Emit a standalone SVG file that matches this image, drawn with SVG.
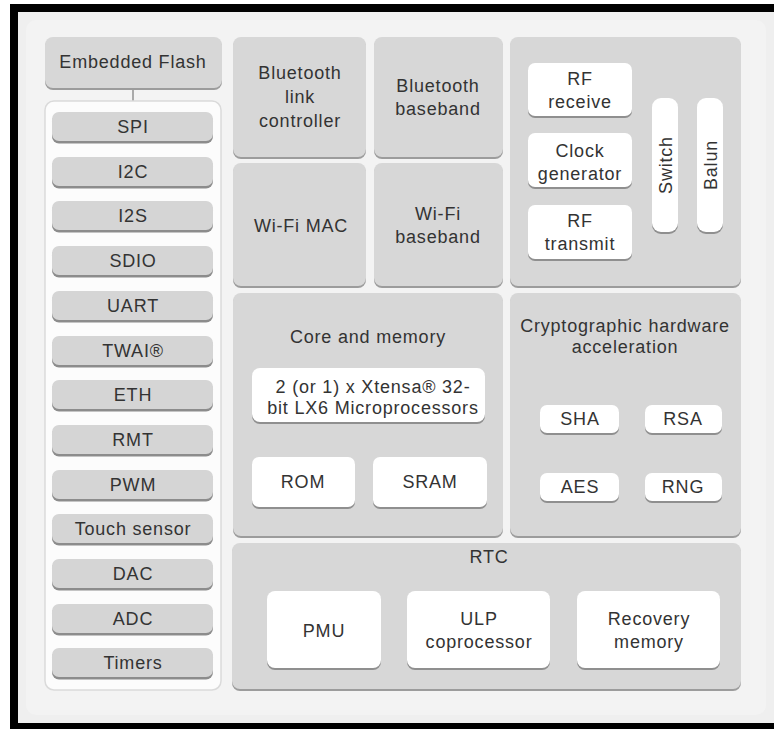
<svg xmlns="http://www.w3.org/2000/svg" width="774" height="729" viewBox="0 0 774 729">
<defs>
<style>
.bg{fill:#efefef}
.panel{fill:#d7d7d7}
.psh{fill:#9c9c9c}
.btn{fill:#d5d5d5}
.bsh{fill:#8c8c8c}
.wb{fill:#ffffff}
.wsh{fill:#8f8f8f}
.t{font-family:"Liberation Sans",Arial,Helvetica,sans-serif;font-size:18px;fill:#333;text-anchor:middle;letter-spacing:0.8px}
.conn{stroke:#7a7a7a;stroke-width:1.2;fill:none}
</style>
</defs>
<rect x="0" y="0" width="774" height="729" fill="#ffffff"/>
<rect x="10" y="4" width="764" height="725" fill="#000"/>
<rect class="bg" x="18" y="12" width="756" height="711"/>
<rect x="26" y="20" width="740" height="695" rx="10" fill="#f3f3f3"/>

<g id="connectors">
<line class="conn" x1="133" y1="89" x2="133" y2="113"/>
</g>

<g id="embedded-flash">
<rect class="psh" x="45" y="39" width="177" height="51" rx="8"/>
<rect class="panel" x="45" y="37" width="177" height="51" rx="8"/>
<text class="t" x="133" y="68">Embedded Flash</text>
</g>

<g id="peripherals">
<rect x="45" y="101" width="176" height="589" rx="9" fill="#fcfcfc" stroke="#dadada" stroke-width="1.5"/>
</g>

<g id="spi"><rect class="bsh" x="52" y="114.5" width="161" height="29" rx="7"/><rect class="btn" x="52" y="112" width="161" height="29" rx="7"/><text class="t" x="133" y="133">SPI</text></g>
<g id="i2c"><rect class="bsh" x="52" y="159.5" width="161" height="29" rx="7"/><rect class="btn" x="52" y="157" width="161" height="29" rx="7"/><text class="t" x="133" y="178">I2C</text></g>
<g id="i2s"><rect class="bsh" x="52" y="203.5" width="161" height="29" rx="7"/><rect class="btn" x="52" y="201" width="161" height="29" rx="7"/><text class="t" x="133" y="222">I2S</text></g>
<g id="sdio"><rect class="bsh" x="52" y="248.5" width="161" height="29" rx="7"/><rect class="btn" x="52" y="246" width="161" height="29" rx="7"/><text class="t" x="133" y="267">SDIO</text></g>
<g id="uart"><rect class="bsh" x="52" y="293.5" width="161" height="29" rx="7"/><rect class="btn" x="52" y="291" width="161" height="29" rx="7"/><text class="t" x="133" y="312">UART</text></g>
<g id="twai"><rect class="bsh" x="52" y="338.5" width="161" height="29" rx="7"/><rect class="btn" x="52" y="336" width="161" height="29" rx="7"/><text class="t" x="133" y="357">TWAI®</text></g>
<g id="eth"><rect class="bsh" x="52" y="382.5" width="161" height="29" rx="7"/><rect class="btn" x="52" y="380" width="161" height="29" rx="7"/><text class="t" x="133" y="401">ETH</text></g>
<g id="rmt"><rect class="bsh" x="52" y="427.5" width="161" height="29" rx="7"/><rect class="btn" x="52" y="425" width="161" height="29" rx="7"/><text class="t" x="133" y="446">RMT</text></g>
<g id="pwm"><rect class="bsh" x="52" y="472.5" width="161" height="29" rx="7"/><rect class="btn" x="52" y="470" width="161" height="29" rx="7"/><text class="t" x="133" y="491">PWM</text></g>
<g id="touch"><rect class="bsh" x="52" y="516.5" width="161" height="29" rx="7"/><rect class="btn" x="52" y="514" width="161" height="29" rx="7"/><text class="t" x="133" y="535">Touch sensor</text></g>
<g id="dac"><rect class="bsh" x="52" y="561.5" width="161" height="29" rx="7"/><rect class="btn" x="52" y="559" width="161" height="29" rx="7"/><text class="t" x="133" y="580">DAC</text></g>
<g id="adc"><rect class="bsh" x="52" y="606.5" width="161" height="29" rx="7"/><rect class="btn" x="52" y="604" width="161" height="29" rx="7"/><text class="t" x="133" y="625">ADC</text></g>
<g id="timers"><rect class="bsh" x="52" y="650.5" width="161" height="29" rx="7"/><rect class="btn" x="52" y="648" width="161" height="29" rx="7"/><text class="t" x="133" y="669">Timers</text></g>

<g id="bt-link">
<rect class="psh" x="233" y="39" width="133" height="120" rx="8"/>
<rect class="panel" x="233" y="37" width="133" height="120" rx="8"/>
<text class="t" x="300" y="79">Bluetooth</text>
<text class="t" x="300" y="103">link</text>
<text class="t" x="300" y="127">controller</text>
</g>
<g id="bt-baseband">
<rect class="psh" x="374" y="39" width="129" height="120" rx="8"/>
<rect class="panel" x="374" y="37" width="129" height="120" rx="8"/>
<text class="t" x="438" y="92">Bluetooth</text>
<text class="t" x="438" y="115">baseband</text>
</g>
<g id="wifi-mac">
<rect class="psh" x="233" y="165" width="133" height="123" rx="8"/>
<rect class="panel" x="233" y="163" width="133" height="123" rx="8"/>
<text class="t" x="301" y="232">Wi-Fi MAC</text>
</g>
<g id="wifi-baseband">
<rect class="psh" x="374" y="165" width="129" height="123" rx="8"/>
<rect class="panel" x="374" y="163" width="129" height="123" rx="8"/>
<text class="t" x="438" y="220">Wi-Fi</text>
<text class="t" x="438" y="243">baseband</text>
</g>

<g id="rf">
<rect class="psh" x="510" y="39" width="231" height="249" rx="8"/>
<rect class="panel" x="510" y="37" width="231" height="249" rx="8"/>
<g id="rf-receive">
<rect class="wsh" x="528" y="65" width="104" height="53" rx="7"/>
<rect class="wb" x="528" y="63" width="104" height="53" rx="7"/>
<text class="t" x="580" y="85">RF</text>
<text class="t" x="580" y="108">receive</text>
</g>
<g id="clock">
<rect class="wsh" x="528" y="135" width="104" height="54" rx="7"/>
<rect class="wb" x="528" y="133" width="104" height="54" rx="7"/>
<text class="t" x="580" y="157">Clock</text>
<text class="t" x="580" y="180">generator</text>
</g>
<g id="rf-transmit">
<rect class="wsh" x="528" y="207" width="104" height="54" rx="7"/>
<rect class="wb" x="528" y="205" width="104" height="54" rx="7"/>
<text class="t" x="580" y="227">RF</text>
<text class="t" x="580" y="250">transmit</text>
</g>
<g id="switch">
<rect class="wsh" x="652" y="100" width="26" height="134" rx="9"/>
<rect class="wb" x="652" y="98" width="26" height="134" rx="9"/>
<text class="t" transform="translate(672,165) rotate(-90)">Switch</text>
</g>
<g id="balun">
<rect class="wsh" x="697" y="100" width="26" height="134" rx="9"/>
<rect class="wb" x="697" y="98" width="26" height="134" rx="9"/>
<text class="t" transform="translate(717,165) rotate(-90)">Balun</text>
</g>
</g>

<g id="core">
<rect class="psh" x="233" y="295" width="270" height="243" rx="8"/>
<rect class="panel" x="233" y="293" width="270" height="243" rx="8"/>
<text class="t" x="368" y="343">Core and memory</text>
<g id="xtensa">
<rect class="wsh" x="252" y="370" width="233" height="54" rx="8"/>
<rect class="wb" x="252" y="368" width="233" height="54" rx="8"/>
<text class="t" x="373" y="393">2 (or 1) x Xtensa® 32-</text>
<text class="t" x="373" y="414">bit LX6 Microprocessors</text>
</g>
<g id="rom">
<rect class="wsh" x="252" y="459" width="103" height="50" rx="7"/>
<rect class="wb" x="252" y="457" width="103" height="50" rx="7"/>
<text class="t" x="303" y="488">ROM</text>
</g>
<g id="sram">
<rect class="wsh" x="373" y="459" width="114" height="50" rx="7"/>
<rect class="wb" x="373" y="457" width="114" height="50" rx="7"/>
<text class="t" x="430" y="488">SRAM</text>
</g>
</g>

<g id="crypto">
<rect class="psh" x="510" y="295" width="231" height="243" rx="8"/>
<rect class="panel" x="510" y="293" width="231" height="243" rx="8"/>
<text class="t" x="625" y="332">Cryptographic hardware</text>
<text class="t" x="625" y="353">acceleration</text>
<g id="sha">
<rect class="wsh" x="540" y="407" width="79" height="28" rx="7"/>
<rect class="wb" x="540" y="405" width="79" height="28" rx="7"/>
<text class="t" x="580" y="425">SHA</text>
</g>
<g id="rsa">
<rect class="wsh" x="645" y="407" width="77" height="28" rx="7"/>
<rect class="wb" x="645" y="405" width="77" height="28" rx="7"/>
<text class="t" x="683" y="425">RSA</text>
</g>
<g id="aes">
<rect class="wsh" x="540" y="475" width="79" height="28" rx="7"/>
<rect class="wb" x="540" y="473" width="79" height="28" rx="7"/>
<text class="t" x="580" y="493">AES</text>
</g>
<g id="rng">
<rect class="wsh" x="645" y="475" width="77" height="28" rx="7"/>
<rect class="wb" x="645" y="473" width="77" height="28" rx="7"/>
<text class="t" x="683" y="493">RNG</text>
</g>
</g>

<g id="rtc">
<rect class="psh" x="232" y="545" width="509" height="146" rx="8"/>
<rect class="panel" x="232" y="543" width="509" height="146" rx="8"/>
<text class="t" x="489" y="563">RTC</text>
<g id="pmu">
<rect class="wsh" x="267" y="593" width="114" height="77" rx="8"/>
<rect class="wb" x="267" y="591" width="114" height="77" rx="8"/>
<text class="t" x="324" y="637">PMU</text>
</g>
<g id="ulp">
<rect class="wsh" x="407" y="593" width="143" height="77" rx="8"/>
<rect class="wb" x="407" y="591" width="143" height="77" rx="8"/>
<text class="t" x="479" y="625">ULP</text>
<text class="t" x="479" y="648">coprocessor</text>
</g>
<g id="recovery">
<rect class="wsh" x="577" y="593" width="143" height="77" rx="8"/>
<rect class="wb" x="577" y="591" width="143" height="77" rx="8"/>
<text class="t" x="649" y="625">Recovery</text>
<text class="t" x="649" y="648">memory</text>
</g>
</g>
</svg>
